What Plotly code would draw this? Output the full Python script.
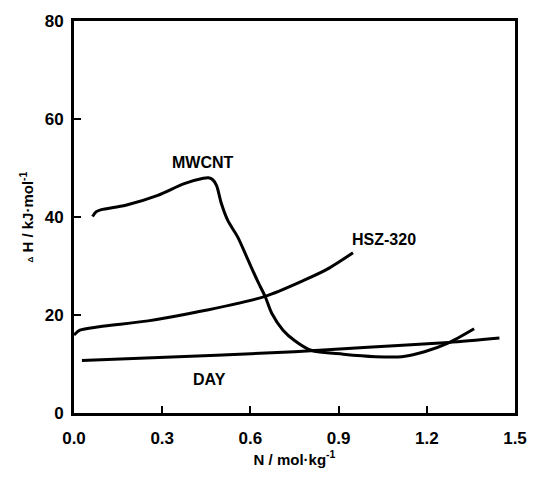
import plotly.graph_objects as go

# MWCNT
mw_n = [0.063, 0.076, 0.093, 0.176, 0.285, 0.375, 0.440, 0.457, 0.472, 0.485, 0.501, 0.523, 0.557, 0.590, 0.623, 0.650, 0.673,
        0.711, 0.750, 0.806, 0.916, 1.026, 1.115, 1.192, 1.270, 1.361]
mw_h = [40.1, 41.1, 41.5, 42.4, 44.4, 46.8, 47.9, 48.0, 47.6, 46.4, 42.8, 39.3, 35.9, 31.5, 27.1, 23.8, 20.3,
        16.9, 14.8, 12.8, 12.0, 11.5, 11.5, 12.5, 14.2, 17.2]
# HSZ-320
hsz_n = [0.0, 0.02, 0.086, 0.252, 0.418, 0.650, 0.783, 0.860, 0.949]
hsz_h = [15.9, 16.9, 17.6, 18.8, 20.6, 23.8, 27.1, 29.3, 32.7]
# DAY
day_n = [0.027, 0.485, 0.750, 1.000, 1.274, 1.447]
day_h = [10.7, 11.8, 12.5, 13.4, 14.4, 15.3]

labels = ["MWCNT", "HSZ-320", "DAY"]
label_n = [0.44, 1.055, 0.46]
label_h = [51.2, 35.4, 6.8]

x_ticks = [0.0, 0.3, 0.6, 0.9, 1.2, 1.5]
y_ticks = [0, 20, 40, 60, 80]

FAM = "Liberation Sans, Arial"
fig = go.Figure()
for xs, ys in [(mw_n, mw_h), (hsz_n, hsz_h), (day_n, day_h)]:
    fig.add_trace(go.Scatter(x=xs, y=ys, mode="lines",
                             line=dict(color="black", width=3, shape="spline", smoothing=0.8),
                             showlegend=False, hoverinfo="skip"))

for t, xn, yh in zip(labels, label_n, label_h):
    fig.add_annotation(x=xn, y=yh, text=t, showarrow=False,
                       font=dict(family=FAM, size=16, color="black", weight="bold"))

tfont = dict(family=FAM, size=17, color="black", weight="bold")
afont = dict(family=FAM, size=15, color="black", weight="bold")
fig.update_layout(
    width=539, height=477,
    margin=dict(l=74, r=12, t=20, b=64),
    paper_bgcolor="white", plot_bgcolor="white",
    font=tfont,
    xaxis=dict(range=[0, 1.5], tickvals=x_ticks, tickformat=".1f",
               showgrid=False, zeroline=False, showline=True, linecolor="black", linewidth=3,
               mirror=True, ticks="inside", ticklen=7, tickwidth=2, tickcolor="black",
               tickfont=tfont, ticklabelstandoff=8, ticklabeloverflow="allow",
               title=dict(text="N / mol·kg<sup>-1</sup>", font=afont, standoff=4)),
    yaxis=dict(range=[0, 80], tickvals=y_ticks,
               showgrid=False, zeroline=False, showline=True, linecolor="black", linewidth=3,
               mirror=True, ticks="inside", ticklen=7, tickwidth=2, tickcolor="black",
               tickfont=tfont, ticklabelstandoff=4,
               title=dict(text="<span style='font-size:8px'>Δ</span> H / kJ·mol<sup>-1</sup>", font=afont, standoff=8)),
)

fig.write_html("out.html", config={"displayModeBar": False},
               post_script="document.body.style.margin='0';")
